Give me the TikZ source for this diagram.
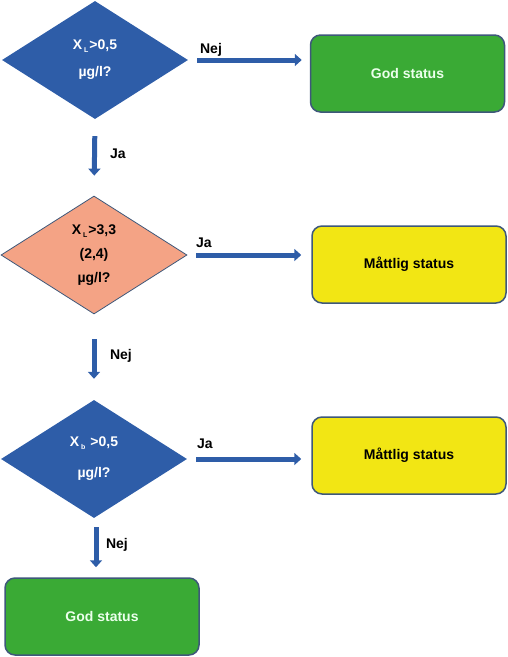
\documentclass[tikz,border=0pt]{standalone}
\usepackage{fontspec}
\setmainfont{Liberation Sans}
\usetikzlibrary{arrows.meta, positioning, shapes.geometric}

\definecolor{qblue}{RGB}{46,93,168}
\definecolor{qsalmon}{RGB}{244,163,133}
\definecolor{qedge}{RGB}{62,88,122}
\definecolor{sgreen}{RGB}{58,170,53}
\definecolor{syellow}{RGB}{242,230,20}

\newcommand{\lowidx}[1]{\raisebox{-3pt}{\fontsize{7}{7}\selectfont #1}}

\begin{document}
\begin{tikzpicture}[
        x=1pt, y=-1pt,
        question/.style={diamond, aspect=1.6, inner sep=0pt, minimum width=186pt, minimum height=118pt, align=center, font=\bfseries\fontsize{14}{27}\selectfont},
        status/.style={rectangle, rounded corners=10pt, draw=qedge, line width=1.5pt, minimum width=194pt, minimum height=77pt, font=\bfseries\fontsize{14}{16}\selectfont},
        answer/.style={font=\bfseries\fontsize{14}{16}\selectfont},
        flow/.style={qblue, line width=5pt, -{Triangle[length=7pt,width=12pt]}}
      ]

      \useasboundingbox (0,0) rectangle (508,657);

      % Questions
      \node[question, fill=qblue, text=white] (q1) at (95,60) {X\kern2pt\lowidx{L}\kern1pt>0,5\\µg/l?};
      \node[question, fill=qsalmon, draw=qedge, line width=0.8pt, font=\bfseries\fontsize{14}{24}\selectfont] (q2) at (94,255) {X\kern2pt\lowidx{L}\kern1pt>3,3\\(2,4)\\µg/l?};
      \node[question, fill=qblue, text=white, font=\bfseries\fontsize{14}{31}\selectfont] (q3) at (94,459) {X\kern2pt\lowidx{b}\kern5pt>0,5\\µg/l?};

      % Outcomes
      \node[status, fill=sgreen, text=white!92!green] (god1) at (407.5,73.5) {God status};
      \node[status, fill=syellow] (mattlig1) at (409,264.5) {Måttlig status};
      \node[status, fill=syellow] (mattlig2) at (409,455.5) {Måttlig status};
      \node[status, fill=sgreen, text=white!92!green] (god2) at (102,616.5) {God status};

      % Answers
      \node[answer] (nej1) at (211,50) {Nej};
      \node[answer] (ja1) at (118,154) {Ja};
      \node[answer] (ja2) at (204,243) {Ja};
      \node[answer] (nej2) at (121,356) {Nej};
      \node[answer] (ja3) at (205,444) {Ja};
      \node[answer] (nej3) at (117,545) {Nej};

      % Connections
      \draw[flow, shorten <=9pt, shorten >=8pt] (q1.east) -- (q1.east -| god1.west);
      \draw[flow, shorten <=17pt, shorten >=20pt] (q1.south) -- (q2.north);
      \draw[flow, shorten <=9pt, shorten >=10pt] (q2.east) -- (q2.east -| mattlig1.west);
      \draw[flow, shorten <=25pt, shorten >=21pt] (q2.south) -- (q3.north);
      \draw[flow, shorten <=9pt, shorten >=10pt] (q3.east) -- (q3.east -| mattlig2.west);
      \draw[flow, shorten <=9pt, shorten >=10pt] ([xshift=2pt]q3.south) -- ([xshift=2pt]q3.south |- god2.north);

      \end{tikzpicture}
\end{document}
